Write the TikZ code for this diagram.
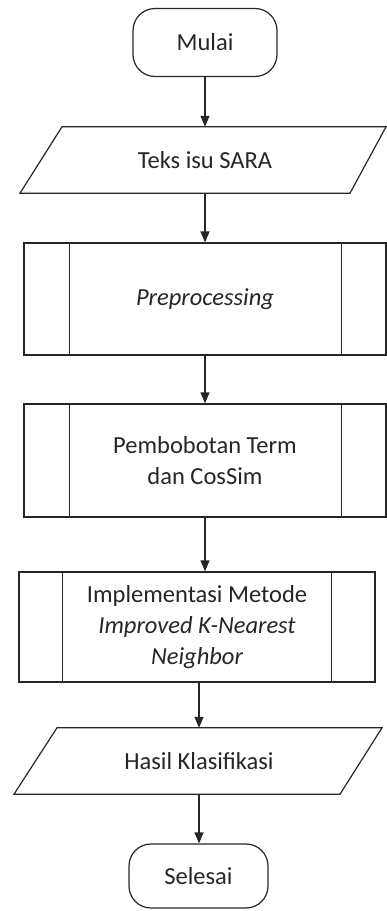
\documentclass[tikz,border=0pt]{standalone}
\usepackage{fontspec}
\setmainfont{Carlito}
\usetikzlibrary{arrows.meta}
\newcommand\flowfont{\fontsize{24.5}{31}\selectfont}
\begin{document}
\begin{tikzpicture}[x=1pt,y=-1pt,
  line/.style={draw=black!85, line width=1.2pt},
  arr/.style={line, -{Triangle[width=9pt,length=11pt]}},
  lbl/.style={text=black!85, font=\flowfont, align=center, inner sep=0pt},
  term/.style={lbl, line, rectangle, rounded corners=22pt, minimum height=68pt},
  iobox/.style={lbl, minimum height=66pt},
  proc/.style={lbl, line, rectangle, minimum height=112pt}
]
\useasboundingbox (0,0) rectangle (387,911);

% terminals
\node[term, minimum width=144pt] (mulai) at (205,42.5) {Mulai};
\node[term, minimum width=139pt, minimum height=64pt] (selesai) at (198.5,876) {Selesai};

% input / output
\node[iobox] (teks) at (205,160) {Teks isu SARA};
\draw[line] ([xshift=-143pt]teks.north) -- ([xshift=181pt]teks.north)
  -- ([xshift=145pt]teks.south) -- ([xshift=-185pt]teks.south) -- cycle;

\node[iobox] (hasil) at (199,761) {Hasil Klasifikasi};
\draw[line] ([xshift=-142pt]hasil.north) -- ([xshift=183pt]hasil.north)
  -- ([xshift=141pt]hasil.south) -- ([xshift=-185pt]hasil.south) -- cycle;

% predefined processes
\node[proc, minimum width=362pt] (pre) at (205,299) {\itshape Preprocessing};
\draw[line] ([xshift=46pt]pre.north west) -- ([xshift=46pt]pre.south west);
\draw[line] ([xshift=-45pt]pre.north east) -- ([xshift=-45pt]pre.south east);

\node[proc, minimum width=362pt, minimum height=113pt] (pemb) at (205,460.5)
  {Pembobotan Term\\dan CosSim};
\draw[line] ([xshift=46pt]pemb.north west) -- ([xshift=46pt]pemb.south west);
\draw[line] ([xshift=-45pt]pemb.north east) -- ([xshift=-45pt]pemb.south east);

\node[proc, minimum width=356pt, minimum height=110pt] (impl) at (197,627)
  {Implementasi Metode\\\itshape Improved K-Nearest\\\itshape Neighbor};
\draw[line] ([xshift=44pt]impl.north west) -- ([xshift=44pt]impl.south west);
\draw[line] ([xshift=-44pt]impl.north east) -- ([xshift=-44pt]impl.south east);

% connectors
\draw[arr] (mulai.south) -- (mulai.south |- teks.north);
\draw[arr] (teks.south) -- (teks.south |- pre.north);
\draw[arr] (pre.south) -- (pre.south |- pemb.north);
\draw[arr] (pemb.south) -- (pemb.south |- impl.north);
\draw[arr] (hasil.north |- impl.south) -- (hasil.north);
\draw[arr] (hasil.south) -- (hasil.south |- selesai.north);
\end{tikzpicture}
\end{document}
